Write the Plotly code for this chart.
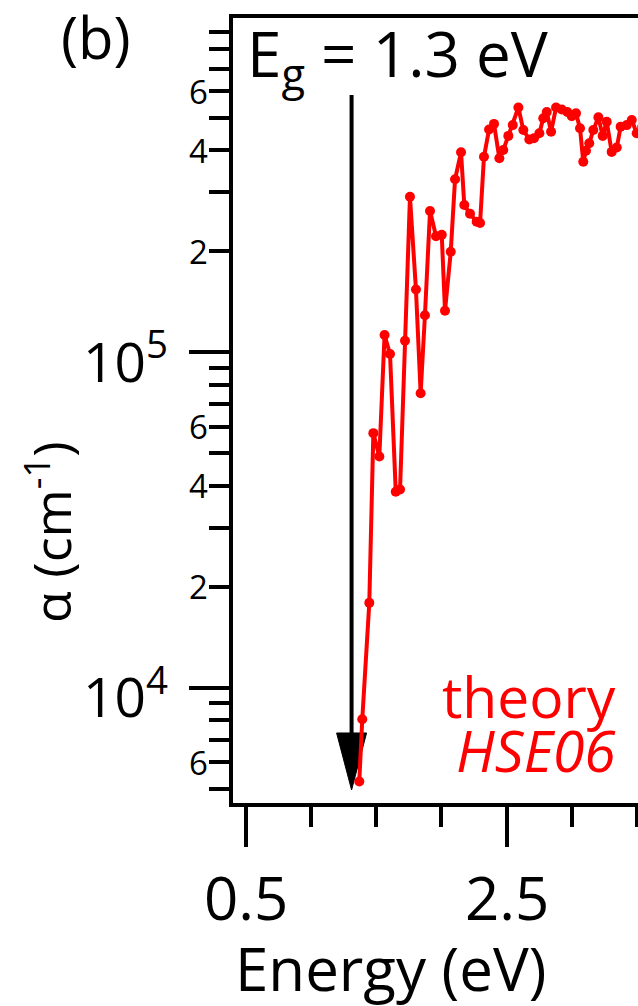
import math
import plotly.graph_objects as go

# ---- data (HSE06 theory absorption) ----
energy = [1.369, 1.392, 1.446, 1.477, 1.523, 1.563, 1.605, 1.649, 1.682, 1.720,
          1.758, 1.804, 1.840, 1.873, 1.912, 1.958, 2.002, 2.027, 2.071, 2.104,
          2.150, 2.175, 2.219, 2.270, 2.296, 2.326, 2.365, 2.403, 2.444, 2.474,
          2.513, 2.547, 2.590, 2.628, 2.674, 2.710, 2.751, 2.781, 2.808, 2.841,
          2.879, 2.923, 2.966, 3.000, 3.032, 3.063, 3.088, 3.109, 3.134, 3.165,
          3.204, 3.237, 3.268, 3.306, 3.345, 3.375, 3.422, 3.460, 3.498, 3.540]
alpha = [5.25e3, 8.05e3, 1.79e4, 5.74e4, 4.89e4, 1.126e5, 9.88e4, 3.84e4, 3.90e4, 1.083e5,
         2.91e5, 1.54e5, 7.55e4, 1.29e5, 2.64e5, 2.22e5, 2.24e5, 1.33e5, 1.995e5, 3.28e5,
         3.95e5, 2.75e5, 2.59e5, 2.45e5, 2.43e5, 3.83e5, 4.62e5, 4.80e5, 3.79e5, 4.01e5,
         4.42e5, 4.76e5, 5.37e5, 4.60e5, 4.31e5, 4.35e5, 4.50e5, 4.99e5, 5.21e5, 4.55e5,
         5.37e5, 5.30e5, 5.21e5, 5.06e5, 5.16e5, 4.66e5, 3.70e5, 3.99e5, 4.20e5, 4.60e5,
         5.02e5, 4.42e5, 4.87e5, 3.96e5, 4.08e5, 4.71e5, 4.76e5, 4.93e5, 4.50e5, 4.70e5]

x_range = [0.4, 3.508]
x_major = [0.5, 2.5, 4.5]
x_major_text = ["0.5", "2.5", "4.5"]
x_minor = [1.0, 1.5, 2.0, 3.0, 3.5, 4.0]

y_range_exp = [3.656, 5.997]
y_major = [1e4, 1e5]
y_major_text = ["10<sup>4</sup>", "10<sup>5</sup>"]
y_minor = [m * 10 ** e for e in (3, 4, 5) for m in range(2, 10)]
y_minor_labeled = [6e3, 2e4, 4e4, 6e4, 2e5, 4e5, 6e5]
y_minor_text = ["6", "2", "4", "6", "2", "4", "6"]

gap_energy = 1.31          # arrow position (E_g)
gap_label = "E<sub>g</sub> = 1.3 eV"

FONT = "Open Sans"
RED = "#ff0000"

fig = go.Figure()
fig.add_trace(go.Scatter(
    x=energy, y=alpha, mode="lines+markers",
    line=dict(color=RED, width=4),
    marker=dict(color=RED, size=10),
    showlegend=False,
))

# arrow marking the band gap
fig.add_shape(type="line", xref="x", yref="paper",
              x0=gap_energy, x1=gap_energy, y0=0.085, y1=0.902,
              line=dict(color="black", width=4), layer="below")
hw = 0.115
fig.add_shape(type="path", xref="x", yref="paper",
              path=f"M {gap_energy-hw},0.0892 L {gap_energy+hw},0.0892 L {gap_energy},0.0166 Z",
              fillcolor="black", line=dict(color="black", width=1), layer="below")

annotations = []
# x tick labels (placed at the axis' own tick values)
for v, t in zip(x_major, x_major_text):
    if x_range[0] <= v <= x_range[1]:
        annotations.append(dict(xref="x", yref="paper", x=v, y=-0.1197, text=t,
                                showarrow=False, xanchor="center", yanchor="middle",
                                font=dict(family=FONT, size=60, color="black")))
# labelled minor y ticks
for v, t in zip(y_minor_labeled, y_minor_text):
    annotations.append(dict(xref="paper", yref="y", x=-0.058, y=math.log10(v),
                            text=t, showarrow=False, xanchor="right", yanchor="middle",
                            font=dict(family=FONT, size=33, color="black")))
annotations += [
    dict(xref="paper", yref="paper", x=-0.43, y=0.977, text="(b)", showarrow=False,
         xanchor="left", yanchor="middle", font=dict(family=FONT, size=58, color="black")),
    dict(xref="paper", yref="paper", x=0.03, y=1.012, text=gap_label, showarrow=False,
         xanchor="left", yanchor="top", font=dict(family=FONT, size=62, color="black")),
    dict(xref="paper", yref="paper", x=0.95, y=0.136, text="theory", showarrow=False,
         xanchor="right", yanchor="middle", font=dict(family=FONT, size=57, color=RED)),
    dict(xref="paper", yref="paper", x=0.95, y=0.068, text="<i>HSE06</i>", showarrow=False,
         xanchor="right", yanchor="middle", font=dict(family=FONT, size=57, color=RED)),
    dict(xref="paper", yref="paper", x=0.39, y=-0.210, text="Energy (eV)", showarrow=False,
         xanchor="center", yanchor="middle", font=dict(family=FONT, size=60, color="black")),
    dict(xref="paper", yref="paper", x=-0.455, y=0.345, text="\u03b1 (cm<sup>-1</sup>)",
         showarrow=False, textangle=-90, xanchor="center", yanchor="middle",
         font=dict(family=FONT, size=52, color="black")),
]

fig.update_layout(
    width=638, height=1006,
    margin=dict(l=233, r=0, t=18, b=203),
    paper_bgcolor="white", plot_bgcolor="white",
    font=dict(family=FONT, color="black"),
    annotations=annotations,
    xaxis=dict(range=x_range, showline=True, linewidth=4, linecolor="black",
               mirror=True, showgrid=False, zeroline=False,
               ticks="outside", ticklen=40, tickwidth=4, tickcolor="black",
               tickmode="array", tickvals=x_major, showticklabels=False,
               minor=dict(tickmode="array", tickvals=x_minor, ticks="outside",
                          ticklen=20, tickwidth=4, tickcolor="black", showgrid=False)),
    yaxis=dict(type="log", range=y_range_exp, showline=True, linewidth=4,
               linecolor="black", mirror=False, showgrid=False, zeroline=False,
               ticks="outside", ticklen=40, tickwidth=4, tickcolor="black",
               tickmode="array", tickvals=y_major, ticktext=y_major_text,
               tickfont=dict(family=FONT, size=55, color="black"),
               ticklabelstandoff=10, ticklabelshift=10,
               minor=dict(tickmode="array", tickvals=y_minor, ticks="outside",
                          ticklen=20, tickwidth=4, tickcolor="black", showgrid=False)),
)

fig.write_html("out.html")
